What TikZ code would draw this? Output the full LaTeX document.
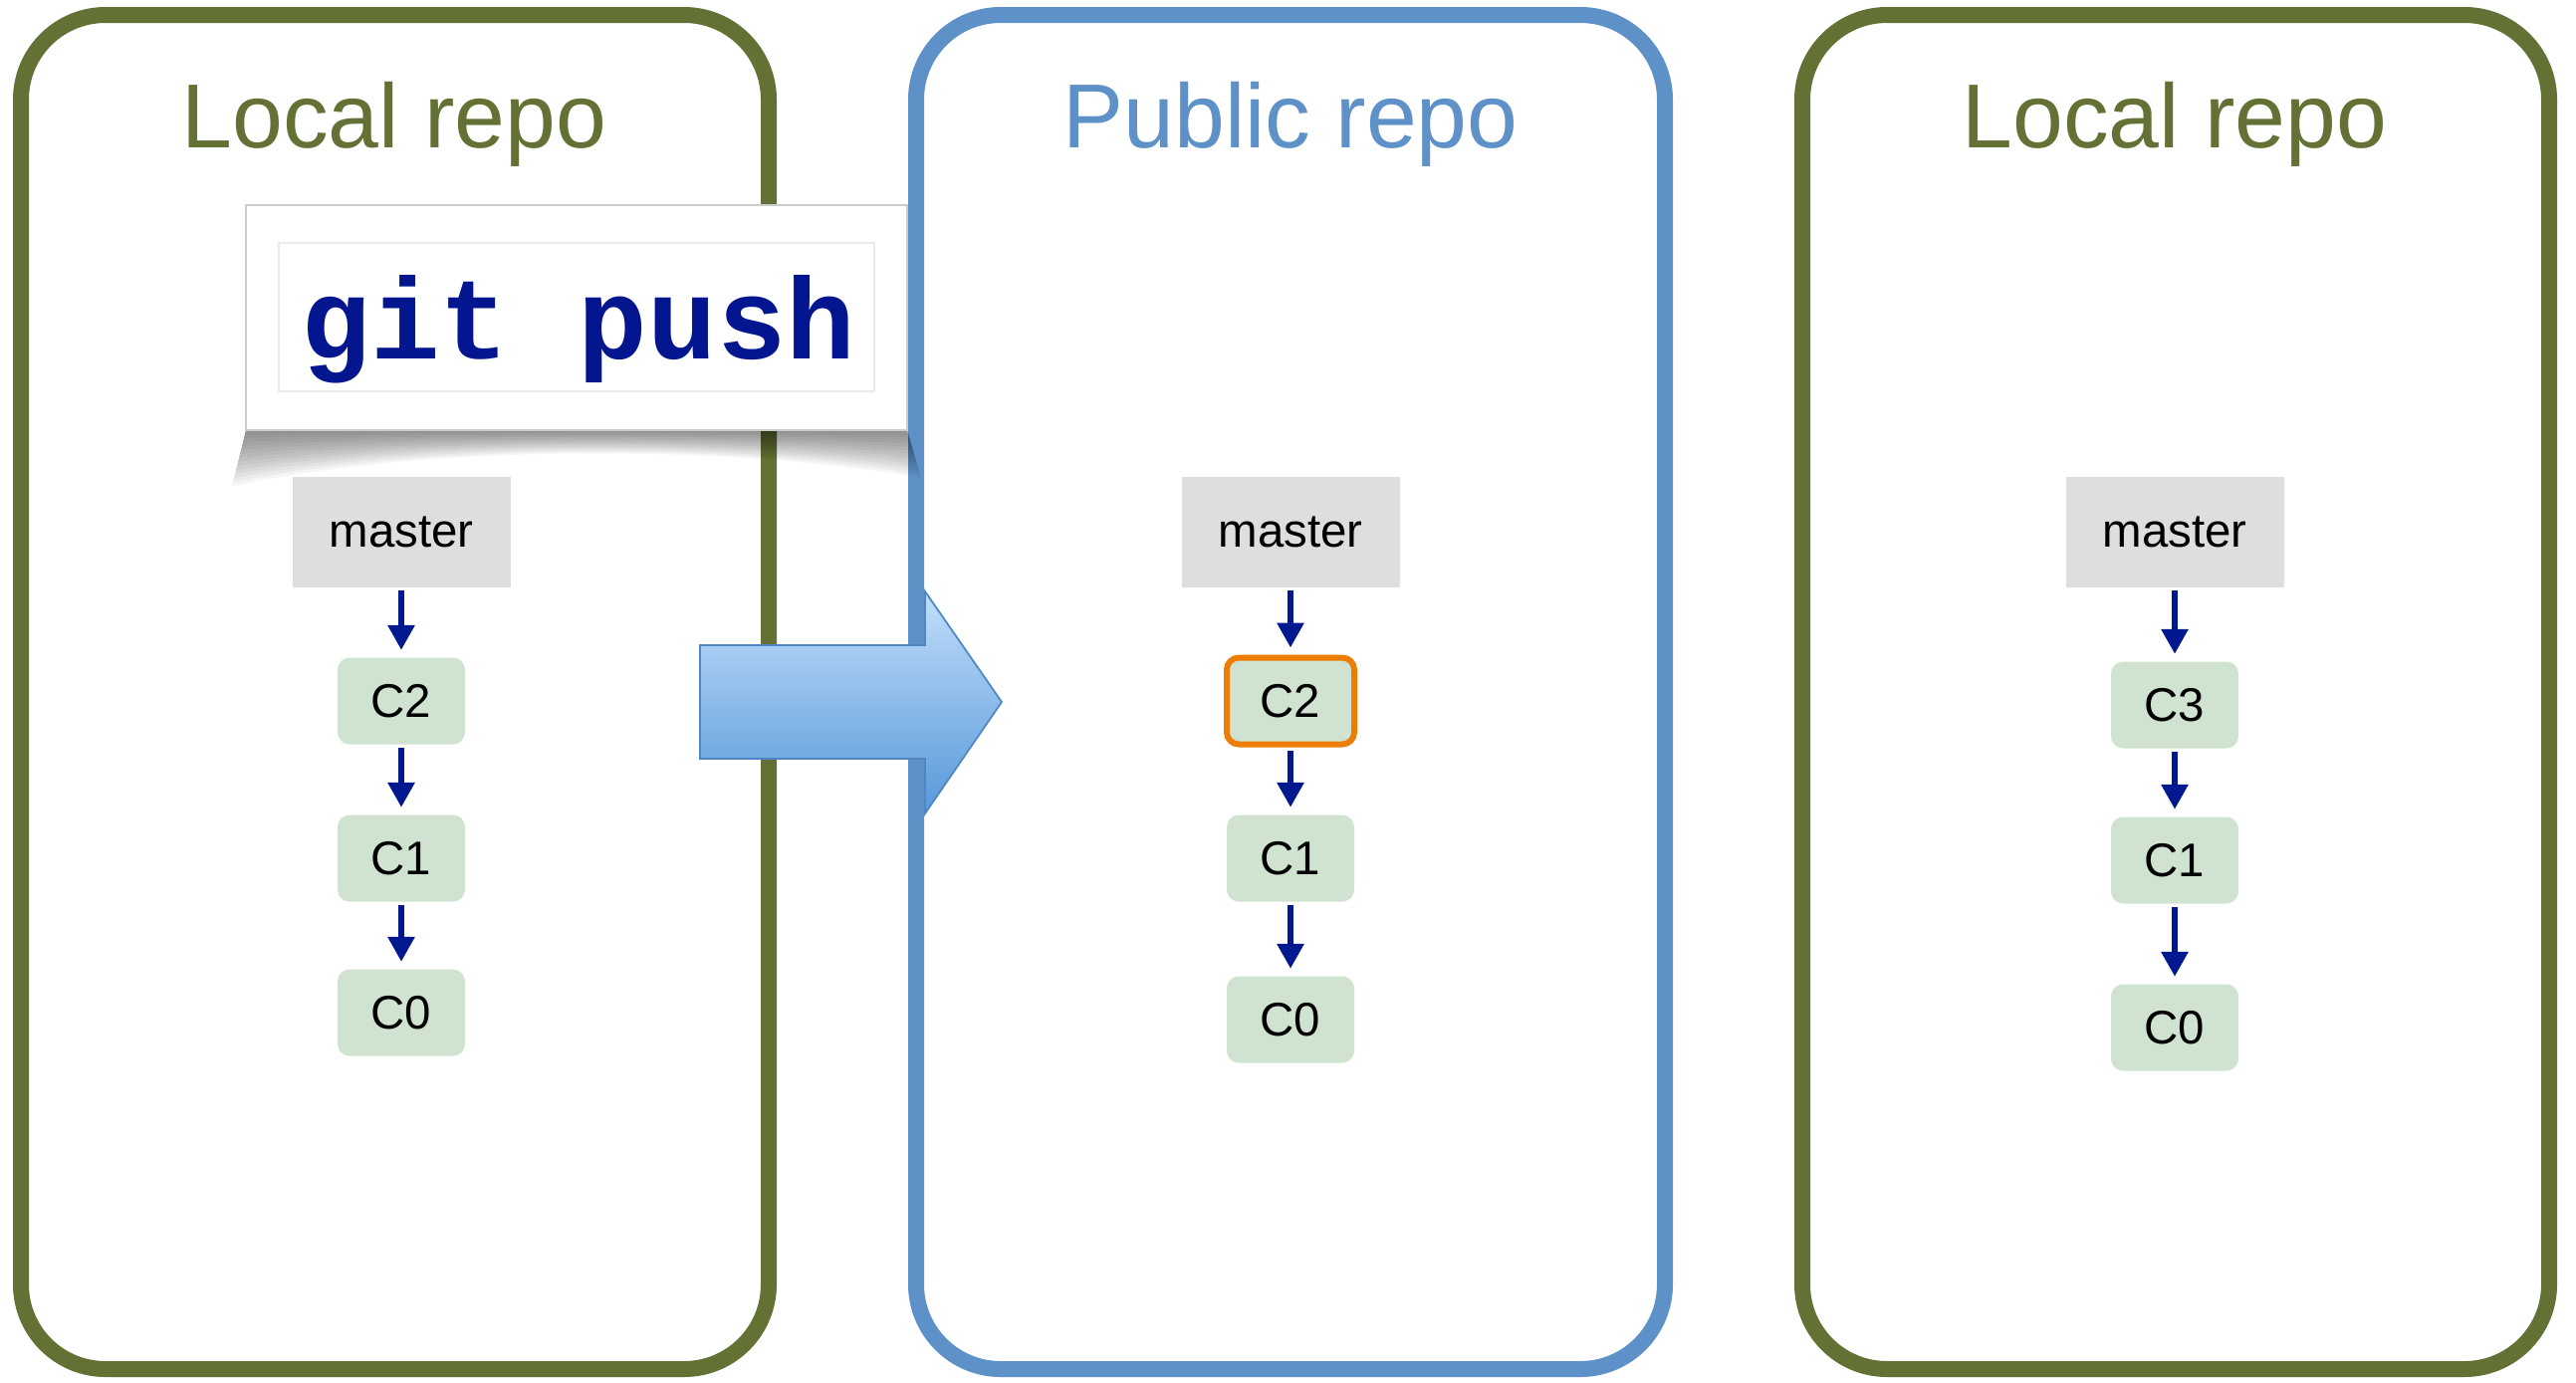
\documentclass[tikz,border=0pt]{standalone}
\usepackage{fontspec}
\setmainfont{Liberation Sans}
\newfontfamily\codefont{Liberation Mono}
\usepackage{tikz}
\usetikzlibrary{arrows.meta}
\definecolor{repoGreen}{RGB}{99, 114, 52}
\definecolor{repoBlue}{RGB}{93, 145, 199}
\definecolor{masterGray}{RGB}{222, 222, 222}
\definecolor{commitGreen}{RGB}{207, 227, 208}
\definecolor{headOrange}{RGB}{236, 126, 8}
\definecolor{linkBlue}{RGB}{2, 24, 143}

\begin{document}
\begin{tikzpicture}[
    repo/.style={line width=0.16cm, rounded corners=0.85cm},
    title/.style={anchor=base, font=\fontsize{26}{30}\selectfont},
    branch/.style={fill=masterGray, minimum width=2.19cm, minimum height=1.11cm, font=\fontsize{13.5}{16}\selectfont},
    commit/.style={fill=commitGreen, rounded corners=0.12cm, minimum width=1.28cm, minimum height=0.87cm, font=\fontsize{13.5}{16}\selectfont},
    link/.style={linkBlue, line width=0.06cm, -{Triangle[width=0.26cm, length=0.25cm]}, shorten <=0.03cm, shorten >=0.07cm}
  ]
        \useasboundingbox (0,0) rectangle (25.87,-13.88);
        \draw[repo, repoGreen] (0.21,-0.15) rectangle (7.72,-13.75);
        \draw[repo, repoBlue] (9.20,-0.15) rectangle (16.72,-13.75);
        \draw[repo, repoGreen] (18.10,-0.15) rectangle (25.60,-13.75);
        \node[title, text=repoGreen] (t1) at (3.96,-1.48) {Local repo};
        \node[title, text=repoBlue] (t2) at (12.96,-1.48) {Public repo};
        \node[title, text=repoGreen] (t3) at (21.84,-1.48) {Local repo};

        \node[branch] (m1) at (4.03,-5.34) {master};
        \node[commit] (a2) at (4.03,-7.04) {C2};
        \node[commit] (a1) at (4.03,-8.62) {C1};
        \node[commit] (a0) at (4.03,-10.17) {C0};
        \draw[link] (m1) -- (a2);
        \draw[link] (a2) -- (a1);
        \draw[link] (a1) -- (a0);

        \node[branch] (m2) at (12.96,-5.34) {master};
        \node[commit, draw=headOrange, line width=0.06cm] (b2) at (12.96,-7.04) {C2};
        \node[commit] (b1) at (12.96,-8.62) {C1};
        \node[commit] (b0) at (12.96,-10.24) {C0};
        \draw[link] (m2) -- (b2);
        \draw[link] (b2) -- (b1);
        \draw[link] (b1) -- (b0);

        \node[branch] (m3) at (21.84,-5.34) {master};
        \node[commit] (c3) at (21.84,-7.08) {C3};
        \node[commit] (c1) at (21.84,-8.64) {C1};
        \node[commit] (c0) at (21.84,-10.32) {C0};
        \draw[link] (m3) -- (c3);
        \draw[link] (c3) -- (c1);
        \draw[link] (c1) -- (c0);

        \shade[top color={rgb,255:red,193;green,222;blue,250}, bottom color={rgb,255:red,88;green,152;blue,218}, draw={rgb,255:red,80;green,135;blue,195}, line width=0.5pt]
          (7.03,-6.48) -- (9.29,-6.48) -- (9.29,-5.94) -- (10.06,-7.05) -- (9.29,-8.17) -- (9.29,-7.62) -- (7.03,-7.62) -- cycle;

        \foreach \k in {1,...,14}
          \fill[black, opacity=0.04] (2.47,-4.32) -- ({2.47-0.01*\k},{-4.32-0.04*\k}) .. controls (4.3,{-4.32-0.01*\k}) and (7.3,{-4.32-0.01*\k}) .. ({9.11+0.01*\k},{-4.32-0.034*\k}) -- (9.11,-4.32) -- cycle;
        \draw[fill=white, draw=black!20] (2.47,-2.06) rectangle (9.11,-4.32);
        \draw[black!8] (2.80,-2.44) rectangle (8.78,-3.93);
        \node[text={rgb,255:red,3;green,22;blue,143}, font=\codefont\bfseries\fontsize{33}{40}\selectfont] (cmd) at (5.81,-3.31) {git push};
      \end{tikzpicture}
\end{document}
